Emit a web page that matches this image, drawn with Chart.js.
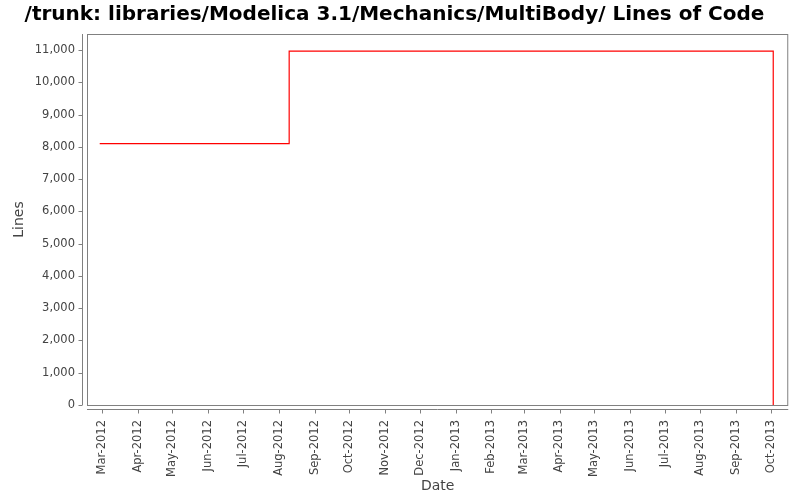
<!DOCTYPE html>
<html>
<head>
<meta charset="utf-8">
<script src="https://cdn.jsdelivr.net/npm/chart.js@4/dist/chart.umd.min.js"></script>
<style>
  html, body { margin: 0; padding: 0; background: #fff; }
  #wrap { width: 800px; height: 500px; }
</style>
</head>
<body>
<div id="wrap"><canvas id="myChart"></canvas></div>
<script>
// data
const dates = ['2012-02-28', '2012-08-10', '2013-10-03'];
const lines = [8100, 10970, 0];
const yTicks = [0, 1000, 2000, 3000, 4000, 5000, 6000, 7000, 8000, 9000, 10000, 11000];
const xTickLabels = ['Mar-2012', 'Apr-2012', 'May-2012', 'Jun-2012', 'Jul-2012', 'Aug-2012',
  'Sep-2012', 'Oct-2012', 'Nov-2012', 'Dec-2012', 'Jan-2013', 'Feb-2013', 'Mar-2013',
  'Apr-2013', 'May-2013', 'Jun-2013', 'Jul-2013', 'Aug-2013', 'Sep-2013', 'Oct-2013'];
const monthNames = ['Jan', 'Feb', 'Mar', 'Apr', 'May', 'Jun', 'Jul', 'Aug', 'Sep', 'Oct', 'Nov', 'Dec'];

const toTime = s => Date.parse(s + 'T00:00:00Z');
const labelToTime = l => {
  const [m, y] = l.split('-');
  return Date.UTC(+y, monthNames.indexOf(m), 1);
};
const xTickValues = xTickLabels.map(labelToTime);
const points = dates.map((d, i) => ({ x: toTime(d), y: lines[i] }));

const axisColor = '#808080';
const textColor = '#444444';

// plot box, detached axis lines and tick marks like the original
const framePlugin = {
  id: 'frame',
  beforeDraw(chart) {
    const { ctx, chartArea: a, scales } = chart;
    ctx.save();
    ctx.strokeStyle = axisColor;
    ctx.lineWidth = 1;
    ctx.strokeRect(a.left + 0.5, a.top + 0.5, a.right - a.left - 1, a.bottom - a.top);
    const yl = a.left - 5 + 0.5;
    const xl = a.bottom + 4 + 0.5;
    ctx.beginPath();
    ctx.moveTo(yl, a.top);
    ctx.lineTo(yl, a.bottom);
    yTicks.forEach(v => {
      const p = Math.round(scales.y.getPixelForValue(v)) + 0.5;
      ctx.moveTo(yl - 4, p);
      ctx.lineTo(yl, p);
    });
    ctx.moveTo(a.left, xl);
    ctx.lineTo(a.right, xl);
    xTickValues.forEach(v => {
      const p = Math.round(scales.x.getPixelForValue(v)) + 0.5;
      ctx.moveTo(p, xl);
      ctx.lineTo(p, xl + 4);
    });
    ctx.stroke();
    ctx.restore();
  }
};

new Chart(document.getElementById('myChart'), {
  type: 'line',
  data: {
    datasets: [{
      label: 'Lines',
      data: points,
      borderColor: '#ff0000',
      borderWidth: 1.2,
      stepped: 'before',
      pointRadius: 0,
      fill: false
    }]
  },
  options: {
    responsive: true,
    maintainAspectRatio: false,
    animation: false,
    layout: { padding: { left: 0, right: 11, top: 0, bottom: 0 } },
    plugins: {
      legend: { display: false },
      tooltip: { enabled: false },
      title: {
        display: true,
        text: '/trunk: libraries/Modelica 3.1/Mechanics/MultiBody/ Lines of Code',
        color: '#000',
        font: { family: 'DejaVu Sans', size: 20, weight: 'bold' },
        padding: { top: 3, bottom: 7 }
      }
    },
    scales: {
      x: {
        type: 'linear',
        min: toTime('2012-02-17'),
        max: toTime('2013-10-16'),
        afterBuildTicks: s => { s.ticks = xTickValues.map(v => ({ value: v })); },
        afterFit: s => { s.height = 95; },
        grid: { display: false, drawTicks: false },
        border: { display: false },
        ticks: {
          autoSkip: false,
          minRotation: 90,
          maxRotation: 90,
          padding: 15,
          color: textColor,
          font: { family: 'DejaVu Sans', size: 11.5 },
          callback: (v) => {
            const i = xTickValues.indexOf(v);
            return i >= 0 ? xTickLabels[i] : '';
          }
        },
        title: {
          display: true,
          text: 'Date',
          color: textColor,
          font: { family: 'DejaVu Sans', size: 14 },
          padding: { top: 0, bottom: 5 }
        }
      },
      y: {
        min: 0,
        max: 11500,
        afterBuildTicks: s => { s.ticks = yTicks.map(v => ({ value: v })); },
        afterFit: s => { s.width = 87; },
        grid: { display: false, drawTicks: false },
        border: { display: false },
        ticks: {
          padding: 12,
          color: textColor,
          font: { family: 'DejaVu Sans', size: 11.5 },
          callback: v => v.toLocaleString('en-US')
        },
        title: {
          display: true,
          text: 'Lines',
          color: textColor,
          font: { family: 'DejaVu Sans', size: 14 },
          padding: { top: 11, bottom: 0 }
        }
      }
    }
  },
  plugins: [framePlugin]
});
</script>
</body>
</html>
